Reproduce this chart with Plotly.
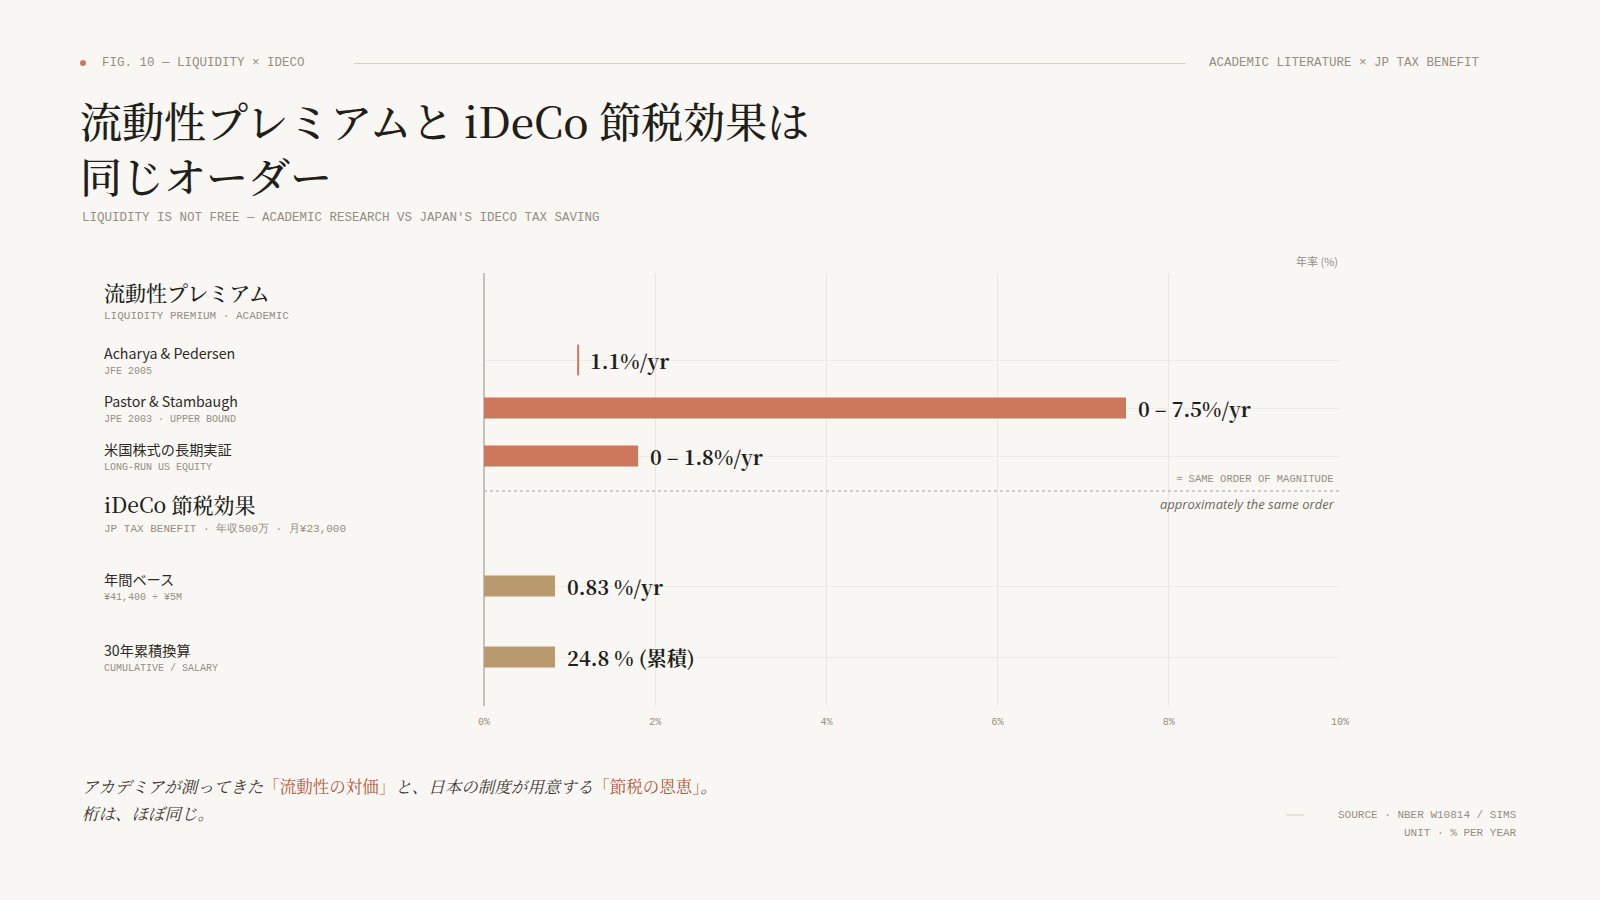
import plotly.graph_objects as go

# liquidity premium estimates (% per year), ranges as low/high
liq_names = ["Acharya & Pedersen", "Pastor & Stambaugh", "米国株式の長期実証"]
liq_subs = ["JFE 2005", "JPE 2003 · UPPER BOUND", "LONG-RUN US EQUITY"]
liq_low = [1.1, 0, 0]
liq_high = [1.1, 7.5, 1.8]
liq_labels = ["1.1%/yr", "0 – 7.5%/yr", "0 – 1.8%/yr"]

# iDeCo tax benefit (bars drawn at annual rate)
ideco_names = ["年間ベース", "30年累積換算"]
ideco_subs = ["¥41,400 ÷ ¥5M", "CUMULATIVE / SALARY"]
ideco_bar = [0.83, 0.83]
ideco_labels = ["0.83 %/yr", "24.8 % (累積)"]

x_ticks = [0, 2, 4, 6, 8, 10]

BG = "#f9f7f3"
TERRA = "#cd785c"
TAN = "#b89a6e"
DARK = "#221f1b"
GRAY = "#948e85"
MONO = "Liberation Mono, DejaVu Sans Mono, monospace"
SERIF = "Noto Serif CJK JP, Liberation Serif, Noto Sans CJK JP, serif"
SANS = "Noto Sans CJK JP, Noto Sans, sans-serif"

# plot box in page pixels
L, R, T, B = 484, 1340, 273, 706
W, H = R - L, B - T


def px(x):
    return (x - L) / W


def py(y):
    return (B - y) / H


# row centres inside the plot (pixels from plot top, y axis runs in pixels)
liq_rows = [87 + 48 * i for i in range(len(liq_names))]
ideco_rows = [313 + 71 * i for i in range(len(ideco_names))]
divider_row = 218
head_rows = [19, 231]

fig = go.Figure()

# ranges as bars, point estimates as tick marks
rng = [i for i in range(len(liq_names)) if liq_high[i] > liq_low[i]]
pts = [i for i in range(len(liq_names)) if liq_high[i] == liq_low[i]]
fig.add_trace(go.Bar(
    y=[liq_rows[i] for i in rng],
    x=[liq_high[i] - liq_low[i] for i in rng],
    base=[liq_low[i] for i in rng],
    orientation="h", width=21,
    marker=dict(color=TERRA, line=dict(width=0)),
    hoverinfo="skip"))
fig.add_trace(go.Scatter(
    y=[liq_rows[i] for i in pts],
    x=[liq_high[i] for i in pts],
    mode="markers",
    marker=dict(symbol="line-ns", size=22, line=dict(color=TERRA, width=2)),
    hoverinfo="skip"))
fig.add_trace(go.Bar(
    y=ideco_rows, x=ideco_bar, orientation="h", width=21,
    marker=dict(color=TAN, line=dict(width=0)),
    hoverinfo="skip"))

ann = []

# value labels
for i in range(len(liq_names)):
    ann.append(dict(x=liq_high[i], y=liq_rows[i], xref="x", yref="y",
                    text=liq_labels[i], showarrow=False, xanchor="left",
                    xshift=10, font=dict(family=SERIF, size=20, color=DARK, weight="bold")))
for i in range(len(ideco_names)):
    ann.append(dict(x=ideco_bar[i], y=ideco_rows[i], xref="x", yref="y",
                    text=ideco_labels[i], showarrow=False, xanchor="left",
                    xshift=10, font=dict(family=SERIF, size=20, color=DARK, weight="bold")))

# left-hand row labels
lx = -(L - 102)
for rows, names, subs in [(liq_rows, liq_names, liq_subs), (ideco_rows, ideco_names, ideco_subs)]:
    for r, n, s in zip(rows, names, subs):
        ann.append(dict(x=0, y=r, xref="paper", yref="y", text=n, showarrow=False,
                        xanchor="left", xshift=lx, yshift=7,
                        font=dict(family=SANS, size=14.2, color="#2d2a26")))
        ann.append(dict(x=0, y=r, xref="paper", yref="y", text=s, showarrow=False,
                        xanchor="left", xshift=lx, yshift=-11,
                        font=dict(family=MONO, size=10, color=GRAY)))

# group headers
heads = [("流動性プレミアム", "LIQUIDITY PREMIUM · ACADEMIC"),
         ("iDeCo 節税効果", "JP TAX BENEFIT · 年収500万 · 月¥23,000")]
for r, (h, s) in zip(head_rows, heads):
    ann.append(dict(x=0, y=r, xref="paper", yref="y", text=h, showarrow=False,
                    xanchor="left", xshift=lx,
                    font=dict(family=SERIF, size=21, color=DARK, weight=500)))
    ann.append(dict(x=0, y=r + 24, xref="paper", yref="y", text=s, showarrow=False,
                    xanchor="left", xshift=lx, font=dict(family=MONO, size=11, color=GRAY)))

# same-order note
ann.append(dict(x=1, y=divider_row - 12, xref="paper", yref="y", xshift=-4,
                text="≈ SAME ORDER OF MAGNITUDE", showarrow=False, xanchor="right",
                font=dict(family=MONO, size=10.5, color=GRAY)))
ann.append(dict(x=1, y=divider_row + 13, xref="paper", yref="y", xshift=-3,
                text="<i>approximately the same order</i>", showarrow=False, xanchor="right",
                font=dict(family="Open Sans, Noto Sans, sans-serif", size=13, color="#6e6860")))
ann.append(dict(x=1, y=py(261), xref="paper", yref="paper", text="年率 (%)",
                showarrow=False, xanchor="right", font=dict(family=SANS, size=11, color=GRAY)))

# header strip
ann.append(dict(x=px(100), y=py(63), xref="paper", yref="paper", showarrow=False,
                xanchor="left", text="FIG. 10 — LIQUIDITY × IDECO",
                font=dict(family=MONO, size=12.5, color=GRAY)))
ann.append(dict(x=px(1482), y=py(63), xref="paper", yref="paper", showarrow=False,
                xanchor="right", text="ACADEMIC LITERATURE × JP TAX BENEFIT",
                font=dict(family=MONO, size=12.5, color=GRAY)))

# title (two lines in one block)
ann.append(dict(x=px(78), y=py(147), xref="paper", yref="paper", showarrow=False,
                xanchor="left", align="left",
                text="流動性プレミアムと iDeCo 節税効果は<br>同じオーダー",
                font=dict(family=SERIF, size=42, color=DARK, weight=500)))
ann.append(dict(x=px(80), y=py(218), xref="paper", yref="paper", showarrow=False,
                xanchor="left",
                text="LIQUIDITY IS NOT FREE — ACADEMIC RESEARCH VS JAPAN'S IDECO TAX SAVING",
                font=dict(family=MONO, size=12.5, color=GRAY)))

# closing note
hl = "#b5573d"
ann.append(dict(x=px(80), y=py(786), xref="paper", yref="paper", showarrow=False,
                xanchor="left",
                text=("<i>アカデミアが測ってきた</i><span style='color:%s'>「流動性の対価」</span>"
                      "<i>と、日本の制度が用意する</i><span style='color:%s'>「節税の恩恵」</span><i>。</i>") % (hl, hl),
                font=dict(family=SERIF, size=16.5, color="#3a3530")))
ann.append(dict(x=px(80), y=py(813), xref="paper", yref="paper", showarrow=False,
                xanchor="left", text="<i>桁は、ほぼ同じ。</i>",
                font=dict(family=SERIF, size=16.5, color="#3a3530")))

# source
ann.append(dict(x=px(1519), y=py(815), xref="paper", yref="paper", showarrow=False,
                xanchor="right", text="SOURCE · NBER W10814 / SIMS",
                font=dict(family=MONO, size=11, color=GRAY)))
ann.append(dict(x=px(1519), y=py(833), xref="paper", yref="paper", showarrow=False,
                xanchor="right", text="UNIT · % PER YEAR",
                font=dict(family=MONO, size=11, color=GRAY)))

for a in ann:
    a["yanchor"] = "middle"

shapes = [
    dict(type="circle", xref="paper", yref="paper", x0=px(80), x1=px(86),
         y0=py(66), y1=py(60), fillcolor=TERRA, line=dict(width=0)),
    dict(type="line", xref="paper", yref="paper", x0=px(354), x1=px(1186),
         y0=py(63.5), y1=py(63.5), line=dict(color="#d6d1c9", width=1)),
    dict(type="line", xref="x", yref="y", x0=0, x1=x_ticks[-1],
         y0=divider_row, y1=divider_row, line=dict(color="#c4beb4", width=1.5, dash="dot")),
    dict(type="line", xref="paper", yref="paper", x0=px(1286), x1=px(1304),
         y0=py(815), y1=py(815), line=dict(color="#d0cbc3", width=1)),
]

fig.update_layout(
    width=1600, height=900,
    paper_bgcolor=BG, plot_bgcolor=BG,
    margin=dict(l=L, r=1600 - R, t=T, b=900 - B),
    showlegend=False, barmode="overlay",
    annotations=ann, shapes=shapes,
    xaxis=dict(range=[0, x_ticks[-1]], tickvals=x_ticks,
               ticktext=["%d%%" % v for v in x_ticks],
               showgrid=True, gridcolor="#ebe7e0", gridwidth=1,
               zeroline=True, zerolinecolor="#c6c1b9", zerolinewidth=2,
               showline=False, ticks="", fixedrange=True, ticklabelstandoff=8,
               tickfont=dict(family=MONO, size=10, color=GRAY)),
    yaxis=dict(range=[H, 0], tickvals=liq_rows + ideco_rows, showticklabels=False,
               showgrid=True, gridcolor="#efebe5", gridwidth=1,
               zeroline=False, showline=False, ticks="", fixedrange=True),
)

fig.write_html("out.html", config={"displayModeBar": False},
               post_script="document.body.style.margin='0';document.body.style.background='%s';" % BG)
